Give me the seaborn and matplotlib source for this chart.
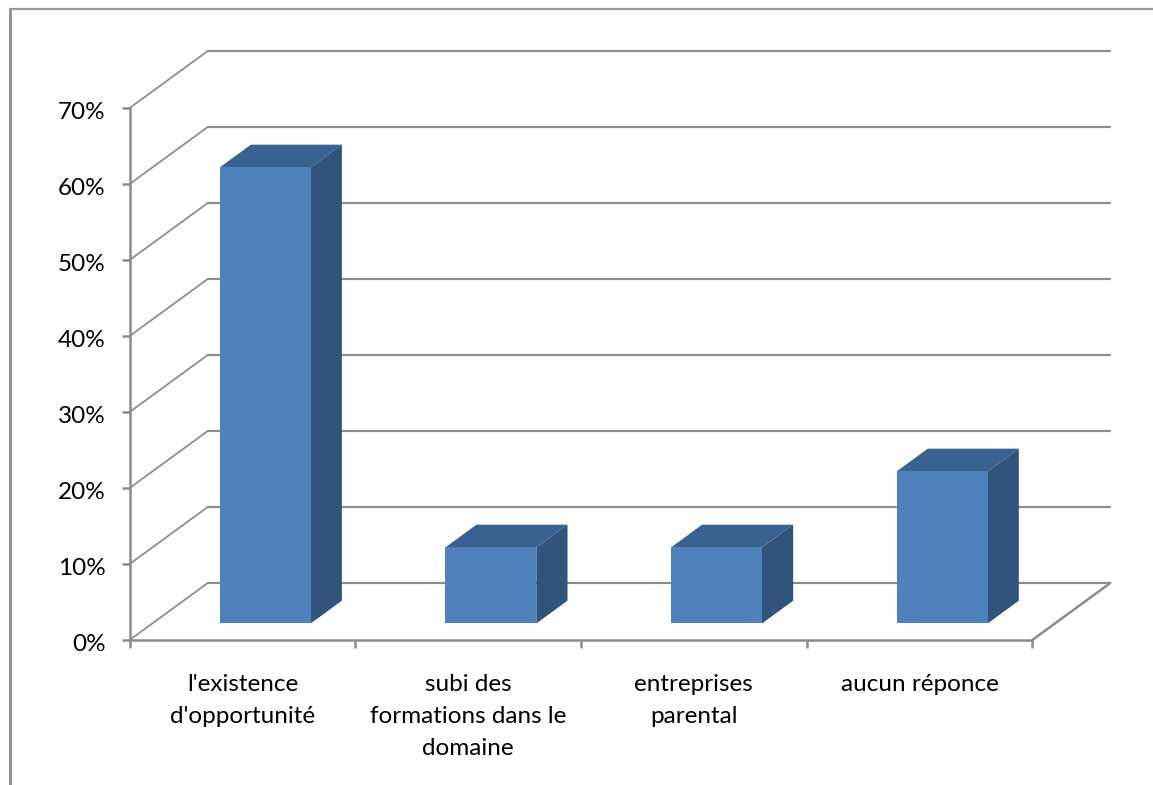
import matplotlib
matplotlib.use("Agg")
import matplotlib.pyplot as plt
from matplotlib.patches import Polygon
from matplotlib.lines import Line2D
from matplotlib.transforms import ScaledTranslation
import pandas as pd
import seaborn as sns

categories = ["l'existence\nd'opportunité", "subi des\nformations dans le\ndomaine",
              "entreprises\nparental", "aucun réponce"]
values = [60, 10, 10, 20]
y_ticks = [0, 10, 20, 30, 40, 50, 60, 70]

W, H = 1153, 785
X0, X1, Y0, Y70 = 129.7, 1032.3, 640, 108

FRONT, TOP, SIDE = "#4f81bd", "#3a6290", "#31547c"
GRID = "#8c8c8c"

sns.set_theme(style="white")
plt.rcParams["font.family"] = ["Lato", "DejaVu Sans"]

fig = plt.figure(figsize=(W / 100, H / 100), dpi=100, facecolor="white")
ax = fig.add_axes([X0 / W, 1 - Y0 / H, (X1 - X0) / W, (Y0 - Y70) / H])

# Oblique projection of the depth axis, in data units per unit of depth
unit_x = 78 / ((X1 - X0) / 4)
unit_y = 57 / ((Y0 - Y70) / 70)


def project(x, y, depth):
    return x + unit_x * depth, y + unit_y * depth


df = pd.DataFrame({"pos": [0.5, 1.5, 2.5, 3.5], "value": values})
BAR_WIDTH = 0.4035
BAR_NEAR, BAR_FAR = 0.29, 0.69

# Back wall and left wall gridlines
for t in y_ticks:
    bx, by = project(0, t, 1)
    ax.add_line(Line2D([0, bx], [t, by], color="#8f8f8f", lw=1.3, clip_on=False, zorder=1))
    ax.add_line(Line2D([bx, 4 + unit_x], [by, by], color=GRID, lw=1.6, clip_on=False, zorder=1))

# Floor outline on the right
fx, fy = project(4, 0, 1)
ax.add_line(Line2D([4, fx], [0, fy], color=GRID, lw=1.8, clip_on=False, zorder=1))

sns.barplot(data=df, x="pos", y="value", native_scale=True, width=BAR_WIDTH,
            color=FRONT, saturation=1, ax=ax, zorder=4)

# Shift the front faces back along the depth axis and add top and side faces
for patch, v in zip(ax.patches, values):
    x_left = patch.get_x() + unit_x * BAR_NEAR
    x_right = x_left + BAR_WIDTH
    patch.set_x(x_left)
    patch.set_y(unit_y * BAR_NEAR)
    patch.set_clip_on(False)
    patch.set_edgecolor("none")
    y_top = v + unit_y * BAR_NEAR
    y_bot = unit_y * BAR_NEAR
    d = BAR_FAR - BAR_NEAR
    top = [(x_left, y_top), (x_right, y_top), project(x_right, y_top, d), project(x_left, y_top, d)]
    side = [(x_right, y_bot), (x_right, y_top), project(x_right, y_top, d), project(x_right, y_bot, d)]
    ax.add_patch(Polygon(top, closed=True, facecolor=TOP, edgecolor="none", clip_on=False, zorder=3))
    ax.add_patch(Polygon(side, closed=True, facecolor=SIDE, edgecolor="none", clip_on=False, zorder=3))

ax.set_xlim(0, 4)
ax.set_ylim(0, 70)
ax.set_xlabel("")
ax.set_ylabel("")
ax.patch.set_alpha(0)

sns.despine(ax=ax, top=True, right=True)
for s in ("left", "bottom"):
    ax.spines[s].set_color(GRID)
    ax.spines[s].set_linewidth(1.8)
    ax.spines[s].set_zorder(2)

ax.set_yticks(y_ticks)
ax.set_yticklabels([f"{t}%" for t in y_ticks], fontsize=17.5, color="black")
ax.set_xticks([0, 1, 2, 3, 4])
ax.set_xticklabels([])
ax.tick_params(axis="both", which="major", color=GRID, width=1.8, length=6, left=True, bottom=True)
ax.tick_params(axis="y", pad=11.5)

# Nudge the percent labels slightly below their ticks
nudge = ScaledTranslation(0, -2 / 72, fig.dpi_scale_trans)
for lab in ax.get_yticklabels():
    lab.set_transform(lab.get_transform() + nudge)

# Category labels sit midway between the tick marks
for x, label in zip(df["pos"], categories):
    ax.annotate(label, xy=(x, 0), xycoords=("data", "axes fraction"), xytext=(0, -24.5),
                textcoords="offset points", ha="center", va="top",
                fontsize=17.5, linespacing=1.66, color="black")

# Outer chart frame, open towards the right and bottom edges
frame_x = 10 / W
frame_y = 1 - 8.5 / H
fig.add_artist(Line2D([frame_x, frame_x], [0, frame_y], color="#8c8c8c", lw=2))
fig.add_artist(Line2D([frame_x, 1], [frame_y, frame_y], color="#9a9a9a", lw=1.6))

fig.savefig("out.png", dpi=100, facecolor="white")
